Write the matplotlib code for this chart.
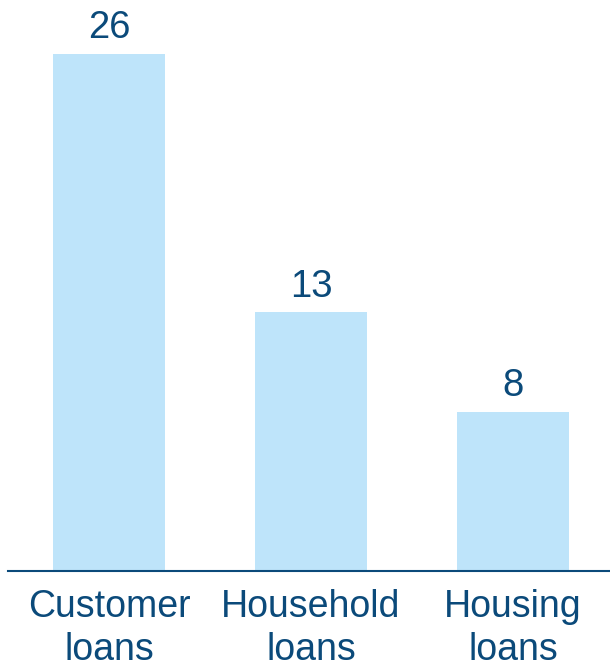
import matplotlib.pyplot as plt

plt.rcParams['font.family'] = ['Liberation Sans', 'DejaVu Sans']

# loan growth figures
categories = ['Customer\nloans', 'Household\nloans', 'Housing\nloans']
values = [26, 13, 8]

bar_color = '#BEE4FA'
text_color = '#0B4A7A'

fig = plt.figure(figsize=(6.1, 6.67), dpi=100)
ax = fig.add_axes([8 / 610, 96 / 667, 602 / 610, 557 / 667])

x = range(len(values))
bars = ax.bar(x, values, width=0.555, color=bar_color)

for b, v in zip(bars, values):
    ax.annotate(str(v), (b.get_x() + b.get_width() / 2, v),
                xytext=(0, 5.5), textcoords='offset points',
                ha='center', va='bottom', fontsize=27.5, color=text_color)

ax.set_xlim(-0.5, 2.48)
ax.set_ylim(0, 28)
ax.set_xticks(list(x))
ax.set_xticklabels(categories, fontsize=27, color=text_color, linespacing=1.26)
ax.tick_params(axis='x', length=0, pad=13)
ax.set_yticks([])

for side in ['top', 'left', 'right']:
    ax.spines[side].set_visible(False)
ax.spines['bottom'].set_color(text_color)
ax.spines['bottom'].set_linewidth(1.5)

fig.savefig('out.png', dpi=100)
